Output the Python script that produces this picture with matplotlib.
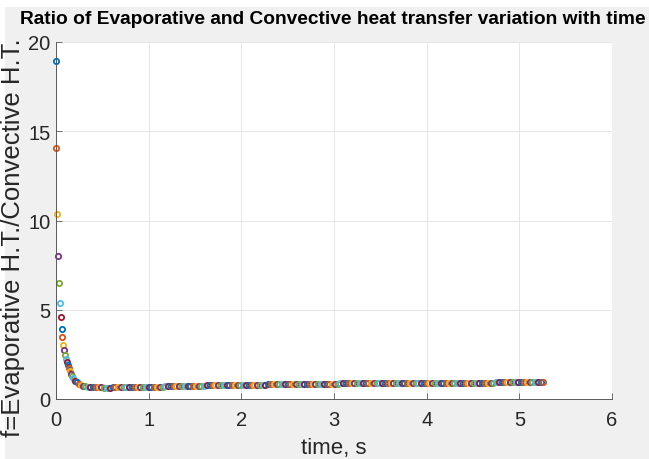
import numpy as np
import matplotlib
matplotlib.use('Agg')
import matplotlib.pyplot as plt
from matplotlib.patches import Rectangle
from cycler import cycler


# Data (time in s, f = evaporative / convective heat transfer).
tStart = [0.000, 0.002, 0.007, 0.020, 0.032, 0.040, 0.050, 0.061, 0.070, 0.079,
          0.090, 0.098, 0.108, 0.116, 0.126, 0.137, 0.148, 0.159, 0.173, 0.188,
          0.205, 0.224, 0.246, 0.271, 0.290, 0.310]
fStart = [18.94, 14.05, 10.36, 8.03, 6.50, 5.40, 4.58, 3.93, 3.46, 3.04,
          2.72, 2.46, 2.26, 2.07, 1.88, 1.71, 1.55, 1.42, 1.28, 1.15,
          1.03, 0.93, 0.85, 0.78, 0.755, 0.73]

tRest = [0.34, 0.37, 0.40, 0.43, 0.46, 0.49, 0.52, 0.55, 0.58, 0.61,
         0.64, 0.67, 0.70, 0.73, 0.76, 0.79, 0.82, 0.85, 0.88, 0.91,
         0.94, 0.97, 1.00, 1.03, 1.06, 1.09, 1.12, 1.15, 1.18, 1.21,
         1.24, 1.27, 1.30, 1.33, 1.36, 1.39, 1.42, 1.45, 1.48, 1.51,
         1.54, 1.57, 1.60, 1.63, 1.66, 1.69, 1.72, 1.75, 1.78, 1.81,
         1.84, 1.87, 1.90, 1.93, 1.96, 1.99, 2.02, 2.05, 2.08, 2.11,
         2.14, 2.17, 2.20, 2.23, 2.26, 2.29, 2.32, 2.35, 2.38, 2.41,
         2.44, 2.47, 2.50, 2.53, 2.56, 2.59, 2.62, 2.65, 2.68, 2.71,
         2.74, 2.77, 2.80, 2.83, 2.86, 2.89, 2.92, 2.95, 2.98, 3.01,
         3.04, 3.07, 3.10, 3.13, 3.16, 3.19, 3.22, 3.25, 3.28, 3.31,
         3.34, 3.37, 3.40, 3.43, 3.46, 3.49, 3.52, 3.55, 3.58, 3.61,
         3.64, 3.67, 3.70, 3.73, 3.76, 3.79, 3.82, 3.85, 3.88, 3.91,
         3.94, 3.97, 4.00, 4.03, 4.06, 4.09, 4.12, 4.15, 4.18, 4.21,
         4.24, 4.27, 4.30, 4.33, 4.36, 4.39, 4.42, 4.45, 4.48, 4.51,
         4.54, 4.57, 4.60, 4.63, 4.66, 4.69, 4.72, 4.75, 4.78, 4.81,
         4.84, 4.87, 4.90, 4.93, 4.96, 4.99, 5.02, 5.05, 5.08, 5.11,
         5.14, 5.17, 5.20, 5.23, 5.26]
fRest = [0.70, 0.68, 0.67, 0.66, 0.65, 0.65, 0.64, 0.64, 0.64, 0.65,
         0.65, 0.65, 0.65, 0.66, 0.66, 0.66, 0.67, 0.67, 0.67, 0.68,
         0.68, 0.68, 0.69, 0.69, 0.69, 0.70, 0.70, 0.70, 0.71, 0.71,
         0.71, 0.72, 0.72, 0.72, 0.73, 0.73, 0.73, 0.74, 0.74, 0.74,
         0.75, 0.75, 0.75, 0.76, 0.76, 0.76, 0.77, 0.77, 0.77, 0.77,
         0.78, 0.78, 0.78, 0.79, 0.79, 0.79, 0.79, 0.80, 0.80, 0.80,
         0.80, 0.81, 0.81, 0.81, 0.81, 0.82, 0.82, 0.82, 0.82, 0.82,
         0.83, 0.83, 0.83, 0.83, 0.84, 0.84, 0.84, 0.84, 0.84, 0.85,
         0.85, 0.85, 0.85, 0.85, 0.85, 0.86, 0.86, 0.86, 0.86, 0.86,
         0.86, 0.87, 0.87, 0.87, 0.87, 0.87, 0.87, 0.88, 0.88, 0.88,
         0.88, 0.88, 0.88, 0.88, 0.88, 0.89, 0.89, 0.89, 0.89, 0.89,
         0.89, 0.89, 0.89, 0.90, 0.90, 0.90, 0.90, 0.90, 0.90, 0.90,
         0.90, 0.90, 0.90, 0.91, 0.91, 0.91, 0.91, 0.91, 0.91, 0.91,
         0.91, 0.91, 0.91, 0.91, 0.92, 0.92, 0.92, 0.92, 0.92, 0.92,
         0.92, 0.92, 0.92, 0.92, 0.92, 0.92, 0.92, 0.93, 0.93, 0.93,
         0.93, 0.93, 0.93, 0.93, 0.93, 0.93, 0.93, 0.93, 0.93, 0.93,
         0.93, 0.93, 0.94, 0.94, 0.94]

time = tStart + tRest
ratio = fStart + fRest

xTicks = [0, 1, 2, 3, 4, 5, 6]
yTicks = [0, 5, 10, 15, 20]

# MATLAB default colour order, points are plotted one by one so colours cycle.
matlabColors = ['#0072BD', '#D95319', '#EDB120', '#7E2F8E', '#77AC30', '#4DBEEE', '#A2142F']

plt.rcParams['font.family'] = ['Liberation Sans', 'DejaVu Sans']
plt.rcParams['axes.prop_cycle'] = cycler(color = matlabColors)

W, H = 649, 460
fig = plt.figure(figsize = (W / 100, H / 100), dpi = 100)
fig.patch.set_facecolor('white')
fig.patches.append(Rectangle((5 / W, 0), 1, 1 - 8 / H, transform = fig.transFigure,
                             facecolor = '#f0f0f0', edgecolor = 'none', zorder = -10))

ax = fig.add_axes([56 / W, 60 / H, 556 / W, 357 / H])
ax.set_facecolor('white')

for ti, fi in zip(time, ratio):
    ax.plot(ti, fi, 'o', markersize = 3.8, markerfacecolor = 'none', markeredgewidth = 1.3, clip_on = False)

ax.set_xlim(0, 6)
ax.set_ylim(0, 20)
ax.set_xticks(xTicks)
ax.set_yticks(yTicks)
ax.grid(True, color = '#e6e6e6', linewidth = 0.7)
ax.set_axisbelow(True)

for side in ['top', 'right']:
    ax.spines[side].set_visible(False)
for side in ['left', 'bottom']:
    ax.spines[side].set_color('#5a5a5a')
    ax.spines[side].set_linewidth(0.7)

ax.tick_params(direction = 'in', length = 4, width = 0.6, color = '#5a5a5a',
               labelsize = 14.5, labelcolor = '#262626')
ax.tick_params(axis = 'x', pad = 8)
ax.tick_params(axis = 'y', pad = 4)

ax.set_xlabel('time, s', fontsize = 16, color = '#262626', labelpad = 6)
ax.set_ylabel('f=Evaporative H.T./Convective H.T.', fontsize = 18.5, color = '#262626')
ax.yaxis.set_label_coords(-0.055, 0.455)

fig.text(333 / W, 1 - 20 / H, 'Ratio of Evaporative and Convective heat transfer variation with time',
         ha = 'center', va = 'center', fontsize = 13.8, fontweight = 'bold', color = 'black')

fig.savefig('out.png', dpi = 100)
